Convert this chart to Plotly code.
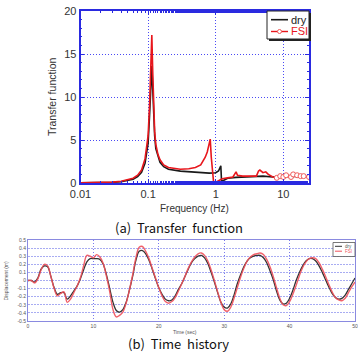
import plotly.graph_objects as go

# ---- (a) Transfer function data ----
freq_dry = [0.01, 0.02, 0.03, 0.04, 0.05, 0.06, 0.07, 0.08, 0.09, 0.1, 0.105, 0.11, 0.1135,
            0.117, 0.12, 0.125, 0.13, 0.14, 0.15, 0.17, 0.2, 0.3, 0.5, 0.8, 1.0, 1.1, 1.19,
            1.22, 1.3, 1.5, 2.0, 3.0, 4.0, 5.0, 7.0, 9.0, 12.0, 16.0, 20.0]
tf_dry = [0.02, 0.04, 0.08, 0.15, 0.28, 0.45, 0.75, 1.25, 2.3, 4.6, 7.8, 11.8, 13.6,
          11.0, 8.0, 5.5, 4.0, 3.0, 2.4, 1.9, 1.6, 1.38, 1.22, 1.15, 1.2, 1.4, 2.0,
          0.2, 0.3, 0.55, 0.65, 0.7, 0.7, 0.8, 0.7, 0.75, 0.8, 0.75, 0.8]

freq_fsi = [0.01, 0.02, 0.03, 0.04, 0.05, 0.06, 0.07, 0.08, 0.09, 0.1, 0.105, 0.11, 0.1135,
            0.117, 0.12, 0.125, 0.13, 0.14, 0.15, 0.17, 0.2, 0.25, 0.3, 0.4, 0.5, 0.6, 0.65,
            0.7, 0.75, 0.8, 0.83, 0.86, 0.9, 0.93, 1.0, 1.1, 1.25, 1.5, 1.8, 2.0, 2.1, 2.5,
            3.0, 3.5, 4.0, 4.3, 4.5, 5.0, 5.5, 6.0, 7.0, 8.0, 9.0, 10.0, 11.0, 13.0, 14.0,
            16.0, 18.0, 20.0, 24.0]
tf_fsi = [0.02, 0.05, 0.1, 0.2, 0.35, 0.55, 0.9, 1.5, 2.8, 5.5, 9.0, 15.0, 17.2,
          13.0, 9.0, 6.0, 4.5, 3.3, 2.7, 2.1, 1.8, 1.65, 1.6, 1.65, 1.8, 2.1, 2.5,
          3.0, 3.6, 4.4, 5.1, 3.0, 1.0, 0.1, 0.1, 0.3, 0.5, 0.6, 0.7, 1.3, 0.9, 0.8,
          0.8, 0.75, 0.8, 1.4, 1.5, 1.2, 1.3, 1.0, 0.7, 0.6, 0.8, 0.7, 0.9, 0.7, 1.0,
          0.9, 0.8, 0.8, 0.7]
fsi_marker_from = 8.0  # circles visible on the high-frequency tail

tf_yticks = [0, 5, 10, 15, 20]
tf_xticks = [0.01, 0.1, 1, 10]
tf_xticklabels = ["0.01", "0.1", "1", "10"]

# ---- (b) Time history data ----
time_s = [0, 0.5, 1, 1.5, 2, 2.5, 3, 3.5, 4, 4.5, 5, 5.5, 6, 6.5, 7, 7.5, 8, 8.5, 9, 9.5,
          10, 10.5, 11, 11.5, 12, 12.5, 13, 13.5, 14, 14.5, 15, 15.5, 16, 16.5, 17, 17.5,
          18, 18.5, 19, 19.5, 20, 20.5, 21, 21.5, 22, 22.5, 23, 23.5, 24, 24.5, 25, 25.5,
          26, 26.5, 27, 27.5, 28, 28.5, 29, 29.5, 30, 30.5, 31, 31.5, 32, 32.5, 33, 33.5,
          34, 34.5, 35, 35.5, 36, 36.5, 37, 37.5, 38, 38.5, 39, 39.5, 40, 40.5, 41, 41.5,
          42, 42.5, 43, 43.5, 44, 44.5, 45, 45.5, 46, 46.5, 47, 47.5, 48, 48.5, 49, 49.5, 50]
disp_dry = [0.00, 0.00, -0.02, 0.03, 0.14, 0.18, 0.17, 0.05, -0.09, -0.17, -0.15, -0.15,
            -0.23, -0.19, -0.13, -0.07, 0.02, 0.13, 0.23, 0.27, 0.27, 0.27, 0.26, 0.20,
            0.07, -0.10, -0.27, -0.37, -0.39, -0.36, -0.27, -0.12, 0.05, 0.25, 0.36, 0.37,
            0.33, 0.25, 0.14, 0.02, -0.09, -0.17, -0.23, -0.25, -0.24, -0.19, -0.11, -0.04,
            0.05, 0.14, 0.22, 0.27, 0.30, 0.31, 0.28, 0.21, 0.10, -0.02, -0.15, -0.27,
            -0.33, -0.34, -0.29, -0.18, -0.04, 0.07, 0.17, 0.24, 0.28, 0.30, 0.31, 0.31,
            0.28, 0.22, 0.12, 0.01, -0.13, -0.24, -0.29, -0.28, -0.22, -0.12, 0.00, 0.10,
            0.18, 0.24, 0.27, 0.27, 0.24, 0.18, 0.10, 0.01, -0.08, -0.16, -0.21, -0.23,
            -0.22, -0.18, -0.11, -0.04, 0.03]
disp_fsi = [0.00, 0.00, -0.03, 0.02, 0.13, 0.20, 0.18, 0.05, -0.10, -0.19, -0.16, -0.14,
            -0.27, -0.23, -0.15, -0.07, 0.03, 0.18, 0.31, 0.30, 0.28, 0.32, 0.29, 0.21,
            0.05, -0.14, -0.36, -0.45, -0.43, -0.39, -0.28, -0.12, 0.07, 0.28, 0.41, 0.42,
            0.36, 0.27, 0.15, 0.03, -0.09, -0.19, -0.26, -0.28, -0.26, -0.21, -0.13, -0.04,
            0.05, 0.15, 0.23, 0.29, 0.33, 0.34, 0.31, 0.24, 0.13, 0.00, -0.14, -0.27,
            -0.36, -0.38, -0.33, -0.22, -0.09, 0.04, 0.15, 0.24, 0.29, 0.32, 0.33, 0.34,
            0.32, 0.26, 0.17, 0.05, -0.09, -0.22, -0.30, -0.31, -0.26, -0.17, -0.06, 0.06,
            0.16, 0.23, 0.27, 0.28, 0.27, 0.22, 0.14, 0.05, -0.05, -0.14, -0.21, -0.24,
            -0.25, -0.22, -0.15, -0.08, -0.02]
th_yticks = [-0.5, -0.4, -0.3, -0.2, -0.1, 0, 0.1, 0.2, 0.3, 0.4, 0.5]
th_yticklabels = ["-0.5", "-0.4", "-0.3", "-0.2", "-0.1", "0", "0.1", "0.2", "0.3", "0.4", "0.5"]
th_xticks = [0, 10, 20, 30, 40, 50]

W, H = 358, 352
FONT = "Liberation Sans, Arial, sans-serif"
BLUE = "#2a2ae0"

fig = go.Figure()

# top chart traces
fig.add_trace(go.Scatter(x=freq_dry, y=tf_dry, mode="lines", name="dry",
                         line=dict(color="#1a1a1a", width=1.6), xaxis="x", yaxis="y",
                         showlegend=False))
split = next(i for i, f in enumerate(freq_fsi) if f >= fsi_marker_from)
fig.add_trace(go.Scatter(x=freq_fsi[:split + 1], y=tf_fsi[:split + 1], mode="lines", name="FSI",
                         line=dict(color="#e8161c", width=1.6), xaxis="x", yaxis="y",
                         showlegend=False))
fig.add_trace(go.Scatter(x=freq_fsi[split:], y=tf_fsi[split:], mode="lines+markers", name="FSI",
                         line=dict(color="#e8161c", width=1.4),
                         marker=dict(symbol="circle", size=5, color="white",
                                     line=dict(color="#f05a5a", width=1)),
                         xaxis="x", yaxis="y", showlegend=False))

# bottom chart traces
fig.add_trace(go.Scatter(x=time_s, y=disp_dry, mode="lines", name="dry", line_shape="spline",
                         line=dict(color="#333333", width=1.3), xaxis="x2", yaxis="y2",
                         showlegend=False))
fig.add_trace(go.Scatter(x=time_s, y=disp_fsi, mode="lines", name="FSI", line_shape="spline",
                         line=dict(color="#f0505a", width=1.4), opacity=0.9,
                         xaxis="x2", yaxis="y2", showlegend=False))

# plot area pixel boxes
tx0, tx1, ty0, ty1 = 80.5, 309, 11, 183
bx0, bx1, by0, by1 = 28, 355, 240, 321

GRIDDOT = "1px,2px"

fig.update_layout(
    width=W, height=H, margin=dict(l=0, r=0, t=0, b=0, autoexpand=False),
    paper_bgcolor="white", plot_bgcolor="white",
    font=dict(family=FONT, color="#444444"),
    xaxis=dict(type="log", domain=[tx0 / W, tx1 / W], range=[-2, 1.38], automargin=False,
               tickvals=tf_xticks, ticktext=tf_xticklabels,
               tickfont=dict(size=11, color="#333333"),
               showline=True, linecolor=BLUE, linewidth=1.8, mirror="ticks",
               ticks="inside", ticklen=4, tickcolor=BLUE,
               showgrid=True, gridcolor="#4a4af5", griddash=GRIDDOT, gridwidth=1,
               minor=dict(ticks="inside", ticklen=2, tickcolor=BLUE, showgrid=False),
               zeroline=False, anchor="y"),
    yaxis=dict(domain=[(H - ty1) / H, (H - ty0) / H], range=[0, 20], automargin=False,
               tickvals=tf_yticks, tickfont=dict(size=11, color="#333333"),
               showline=True, linecolor=BLUE, linewidth=1.8, mirror="ticks",
               ticks="inside", ticklen=4, tickcolor=BLUE,
               showgrid=True, gridcolor="#4a4af5", griddash=GRIDDOT, gridwidth=1,
               minor=dict(ticks="inside", ticklen=2, tickcolor=BLUE, dtick=1, showgrid=False),
               zeroline=False, anchor="x"),
    xaxis2=dict(domain=[bx0 / W, bx1 / W], range=[0, 50], tickvals=th_xticks, automargin=False,
                tickfont=dict(size=5, color="#555555"),
                showline=True, linecolor="#8a8ae0", linewidth=1, mirror=True,
                ticks="", showgrid=True, gridcolor="#7a7aee", griddash=GRIDDOT, gridwidth=1,
                zeroline=False, anchor="y2"),
    yaxis2=dict(domain=[(H - by1) / H, (H - by0) / H], range=[-0.5, 0.5], automargin=False,
                tickvals=th_yticks, ticktext=th_yticklabels,
                tickfont=dict(size=5, color="#555555"),
                showline=True, linecolor="#8a8ae0", linewidth=1, mirror=True,
                ticks="", showgrid=True, gridcolor="#a8acf2", griddash="2px,1px", gridwidth=1,
                zeroline=False, anchor="x2"),
)

def px(x):
    return x / W

def py(y):
    return 1 - y / H

ann = []
# axis titles
ann.append(dict(x=px(195), y=py(208.5), text="Frequency (Hz)", showarrow=False,
                font=dict(size=10, color="#333333"), xref="paper", yref="paper",
                xanchor="center", yanchor="middle"))
ann.append(dict(x=px(52), y=py(97), text="Transfer function", showarrow=False, textangle=-90,
                font=dict(size=10.5, color="#333333"), xref="paper", yref="paper",
                xanchor="center", yanchor="middle"))
ann.append(dict(x=px(185), y=py(331.5), text="Time (sec)", showarrow=False,
                font=dict(size=5, color="#555555"), xref="paper", yref="paper",
                xanchor="center", yanchor="middle"))
ann.append(dict(x=px(5), y=py(280.5), text="Displacement (m)", showarrow=False, textangle=-90,
                font=dict(size=5, color="#555555"), xref="paper", yref="paper",
                xanchor="center", yanchor="middle"))
# captions
ann.append(dict(x=px(179), y=py(227.5), text="(a)  Transfer  function", showarrow=False,
                font=dict(size=13, color="#111111", family="Noto Sans CJK KR, sans-serif"),
                xref="paper", yref="paper", xanchor="center", yanchor="middle"))
ann.append(dict(x=px(178), y=py(343.5), text="(b)  Time  history", showarrow=False,
                font=dict(size=13, color="#111111", family="Noto Sans CJK KR, sans-serif"),
                xref="paper", yref="paper", xanchor="center", yanchor="middle"))

shapes = []
# top legend (shadow + box)
shapes.append(dict(type="rect", xref="paper", yref="paper", x0=px(269), x1=px(311),
                   y0=py(41), y1=py(13), fillcolor="#222222", line=dict(width=0)))
shapes.append(dict(type="rect", xref="paper", yref="paper", x0=px(267), x1=px(309),
                   y0=py(39), y1=py(11), fillcolor="white", line=dict(color="#222222", width=1)))
shapes.append(dict(type="line", xref="paper", yref="paper", x0=px(271), x1=px(288),
                   y0=py(19.7), y1=py(19.7), line=dict(color="#1a1a1a", width=1.6)))
shapes.append(dict(type="line", xref="paper", yref="paper", x0=px(271), x1=px(288),
                   y0=py(31.5), y1=py(31.5), line=dict(color="#e8161c", width=1.4)))
shapes.append(dict(type="circle", xref="paper", yref="paper", x0=px(277.5), x1=px(281.5),
                   y0=py(33.5), y1=py(29.5), fillcolor="white", line=dict(color="#f05a5a", width=1)))
ann.append(dict(x=px(288.5), y=py(19.5), text="dry", showarrow=False, font=dict(size=11, color="#222222"),
                xref="paper", yref="paper", xanchor="left", yanchor="middle"))
ann.append(dict(x=px(288.5), y=py(31.5), text="FSI", showarrow=False, font=dict(size=11, color="#e8161c"),
                xref="paper", yref="paper", xanchor="left", yanchor="middle"))

# bottom legend
shapes.append(dict(type="rect", xref="paper", yref="paper", x0=px(333), x1=px(355),
                   y0=py(256.5), y1=py(242.5), fillcolor="white", line=dict(color="#555555", width=0.8)))
shapes.append(dict(type="line", xref="paper", yref="paper", x0=px(335), x1=px(342),
                   y0=py(246.3), y1=py(246.3), line=dict(color="#333333", width=1)))
shapes.append(dict(type="line", xref="paper", yref="paper", x0=px(335), x1=px(342),
                   y0=py(251.2), y1=py(251.2), line=dict(color="#f0505a", width=1, dash="dash")))
ann.append(dict(x=px(343), y=py(246.3), text="dry", showarrow=False, font=dict(size=4.5, color="#555555"),
                xref="paper", yref="paper", xanchor="left", yanchor="middle"))
ann.append(dict(x=px(343), y=py(251.2), text="FSI", showarrow=False, font=dict(size=4.5, color="#f0505a"),
                xref="paper", yref="paper", xanchor="left", yanchor="middle"))

fig.update_layout(annotations=ann, shapes=shapes)
fig.write_html("out.html")
